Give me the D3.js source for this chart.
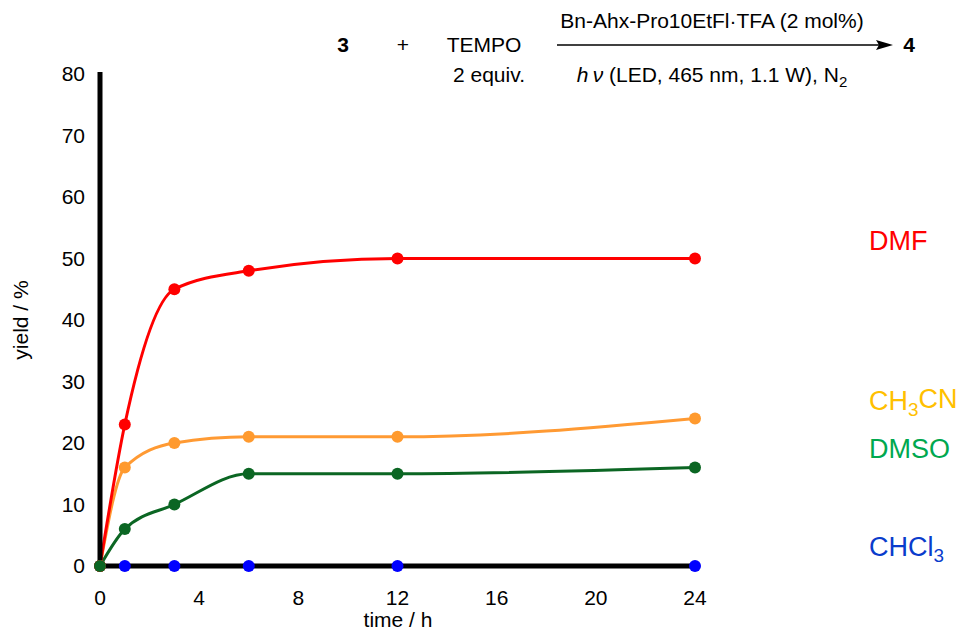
<!DOCTYPE html>
<html>
<head>
<meta charset="utf-8">
<script src="https://cdn.jsdelivr.net/npm/d3@7"></script>
<style>
  body { margin: 0; background: #fff; }
  text { font-family: "Liberation Sans", Arial, sans-serif; }
</style>
</head>
<body>
<div id="chart"></div>
<script>
// data
var times = [0, 1, 3, 6, 12, 24];
var dmf   = [0, 23, 45, 48, 50, 50];
var mecn  = [0, 16, 20, 21, 21, 24];
var dmso  = [0, 6, 10, 15, 15, 16];
var chcl3 = [0, 0, 0, 0, 0, 0];
var xTicks = [0, 4, 8, 12, 16, 20, 24];
var yTicks = [0, 10, 20, 30, 40, 50, 60, 70, 80];

var series = [
  {name: "CHCl3", vals: chcl3, line: "#0000ff", dot: "#0000ff", lab: "#0a3ccc", ly: 556},
  {name: "DMSO",  vals: dmso,  line: "#0b6623", dot: "#0b6623", lab: "#00a84f", ly: 458},
  {name: "CH3CN", vals: mecn,  line: "#ff9a33", dot: "#ff9a2e", lab: "#ffc000", ly: 410},
  {name: "DMF",   vals: dmf,   line: "#ff0000", dot: "#ff0000", lab: "#ff0000", ly: 250}
];

var W = 961, H = 631;
var svg = d3.select("#chart").append("svg")
    .attr("width", W).attr("height", H);

var x = d3.scaleLinear().domain([0, 24]).range([100, 695]);
var y = d3.scaleLinear().domain([0, 80]).range([566, 74]);

// fitted curves
var line = d3.line()
    .x(function(d) { return x(d[0]); })
    .y(function(d) { return y(d[1]); })
    .curve(d3.curveMonotoneX);

series.forEach(function(s) {
  var pts = times.map(function(t, i) { return [t, s.vals[i]]; });
  svg.append("path")
      .attr("d", line(pts))
      .attr("fill", "none")
      .attr("stroke", s.line)
      .attr("stroke-width", 3);
});

// axes (thick black lines, no tick marks)
svg.append("line")
    .attr("x1", x(0)).attr("x2", x(0))
    .attr("y1", y(80) - 2).attr("y2", y(0) + 2)
    .attr("stroke", "#000").attr("stroke-width", 5);
svg.append("line")
    .attr("x1", x(0) - 2).attr("x2", x(24))
    .attr("y1", y(0)).attr("y2", y(0))
    .attr("stroke", "#000").attr("stroke-width", 5);

svg.selectAll(".xt").data(xTicks).enter().append("text")
    .attr("x", function(d) { return x(d); })
    .attr("y", 598)
    .attr("dy", "0.35em")
    .attr("text-anchor", "middle")
    .style("font-size", "21px")
    .text(function(d) { return d; });

svg.selectAll(".yt").data(yTicks).enter().append("text")
    .attr("x", 85)
    .attr("y", function(d) { return y(d); })
    .attr("dy", "0.35em")
    .attr("text-anchor", "end")
    .style("font-size", "21px")
    .text(function(d) { return d; });

svg.append("text")
    .attr("x", 398).attr("y", 627)
    .attr("text-anchor", "middle")
    .style("font-size", "21px")
    .text("time / h");

svg.append("text")
    .attr("transform", "translate(21,320) rotate(-90)")
    .attr("dy", "0.35em")
    .attr("text-anchor", "middle")
    .style("font-size", "21px")
    .text("yield / %");

// markers
series.forEach(function(s) {
  svg.selectAll(null).data(times).enter().append("circle")
      .attr("cx", function(d) { return x(d); })
      .attr("cy", function(d, i) { return y(s.vals[i]); })
      .attr("r", 6)
      .attr("fill", s.dot);
});
// origin point shows green on top
svg.append("circle").attr("cx", x(0)).attr("cy", y(0)).attr("r", 6).attr("fill", "#0b6623");

// solvent labels
function subLabel(t, name, size) {
  var m = name.match(/^(.*?)(\d)(.*)$/);
  if (!m) { t.text(name); return; }
  t.append("tspan").text(m[1]);
  t.append("tspan").attr("dy", "0.3em").style("font-size", (size * 0.7) + "px").text(m[2]);
  if (m[3]) t.append("tspan").attr("dy", "-0.3em").text(m[3]);
}
series.forEach(function(s) {
  var t = svg.append("text")
      .attr("x", 869).attr("y", s.ly)
      .attr("fill", s.lab)
      .style("font-size", "27px");
  subLabel(t, s.name, 27);
});

// reaction scheme header
var fs = 21;
svg.append("text").attr("x", 343).attr("y", 52).attr("text-anchor", "middle")
    .style("font-size", fs + "px").style("font-weight", "bold").text("3");
svg.append("text").attr("x", 403).attr("y", 52).attr("text-anchor", "middle")
    .style("font-size", fs + "px").text("+");
svg.append("text").attr("x", 484).attr("y", 52).attr("text-anchor", "middle")
    .style("font-size", fs + "px").text("TEMPO");
svg.append("text").attr("x", 489).attr("y", 82).attr("text-anchor", "middle")
    .style("font-size", fs + "px").text("2 equiv.");
svg.append("text").attr("x", 712).attr("y", 28).attr("text-anchor", "middle")
    .style("font-size", fs + "px").text("Bn-Ahx-Pro10EtFl\u00b7TFA (2 mol%)");
var cond = svg.append("text").attr("x", 712).attr("y", 82).attr("text-anchor", "middle")
    .style("font-size", fs + "px");
cond.append("tspan").style("font-style", "italic").text("h\u2009\u03bd");
cond.append("tspan").text(" (LED, 465 nm, 1.1 W), N");
cond.append("tspan").attr("dy", "0.3em").style("font-size", "15px").text("2");
svg.append("text").attr("x", 909).attr("y", 52).attr("text-anchor", "middle")
    .style("font-size", fs + "px").style("font-weight", "bold").text("4");

// arrow
svg.append("line").attr("x1", 557).attr("x2", 880).attr("y1", 45).attr("y2", 45)
    .attr("stroke", "#000").attr("stroke-width", 1.5);
svg.append("path").attr("d", "M893,45 L876,40 L879,45 L876,50 Z").attr("fill", "#000");
</script>
</body>
</html>
